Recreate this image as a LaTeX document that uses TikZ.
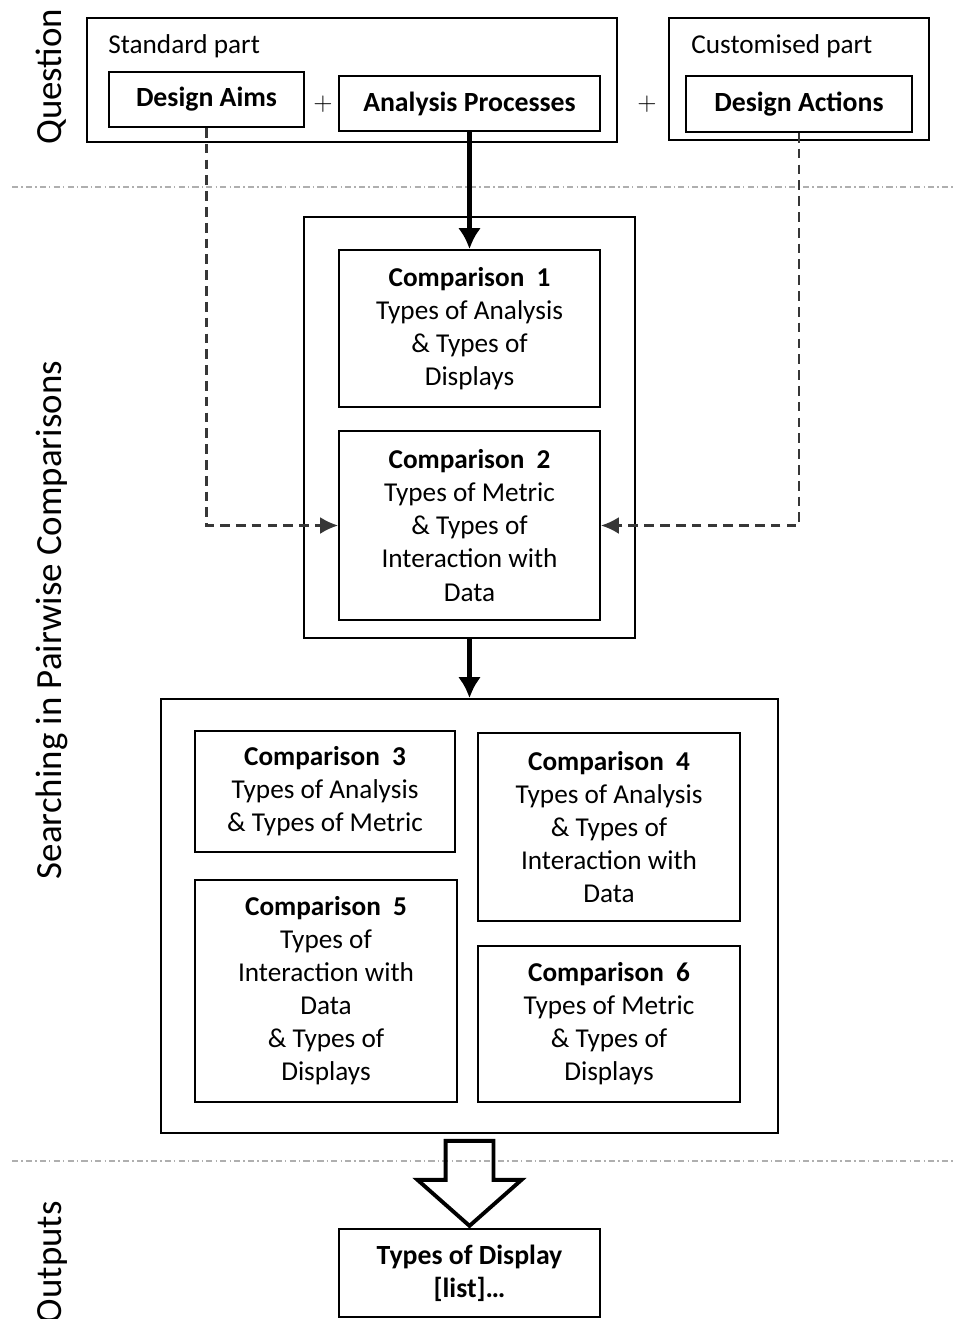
\documentclass[tikz,border=0pt]{standalone}
\usepackage{fontspec}
\setmainfont{Carlito}
\usetikzlibrary{arrows.meta, shapes.arrows}
\definecolor{dashgrey}{RGB}{55,55,55}
\definecolor{sepgrey}{RGB}{175,175,175}
\tikzstyle{frame} = [rectangle, draw, line width=1.1pt, inner sep=0pt]
\tikzstyle{cmpbox} = [rectangle, draw, line width=1.1pt, align=center, inner sep=0pt, font=\fontsize{15.5}{18.8}\selectfont]
\tikzstyle{qbox} = [cmpbox, font=\fontsize{15.8}{18.8}\selectfont\bfseries]
\tikzstyle{partlabel} = [anchor=west, inner sep=0pt, font=\fontsize{15.5}{17}\selectfont]
\tikzstyle{plussign} = [inner sep=0pt, font=\fontsize{15.5}{17}\selectfont]
\tikzstyle{rowlabel} = [rotate=90, inner sep=0pt, font=\fontsize{21}{24}\selectfont]
\tikzstyle{arrow} = [line width=2.6pt, -{Latex[length=0.42cm, width=0.46cm]}]
\tikzstyle{dasharrow} = [dashgrey, line width=1.3pt, dash pattern=on 5.5pt off 3.5pt, -{Latex[length=0.36cm, width=0.34cm]}]
\tikzstyle{sepline} = [sepgrey, line width=1.1pt, dash pattern=on 3.5pt off 1.8pt on 0.8pt off 1.8pt]
\newcommand{\cmptitle}[1]{\textbf{Comparison\hspace{0.45em}#1}}

\begin{document}
\begin{tikzpicture}[x=0.02cm, y=-0.02cm]
    \useasboundingbox (0,0) rectangle (954,1319);

    % row separators
    \draw[sepline] (12,187) -- (954,187);
    \draw[sepline] (12,1161) -- (954,1161);

    % row labels
    \node[rowlabel, anchor=base west] (lblq) at (61,145) {Question};
    \node[rowlabel, anchor=base] (lbls) at (61,620) {Searching in Pairwise Comparisons};
    \node[rowlabel, anchor=base east] (lblo) at (61,1201) {Outputs};

    % Question
    \node[frame, minimum width=10.6cm, minimum height=2.48cm] (std) at (352,80) {};
    \node[partlabel] (stdlbl) at (108,46) {Standard part};
    \node[qbox, minimum width=3.9cm, minimum height=1.1cm] (aims) at (206.5,99.5) {Design Aims};
    \node[plussign] (plus1) at (323,104) {$+$};
    \node[qbox, minimum width=5.22cm, minimum height=1.1cm] (proc) at (469.5,103.5) {Analysis Processes};
    \node[plussign] (plus2) at (647,104) {$+$};
    \node[frame, minimum width=5.2cm, minimum height=2.44cm] (cust) at (799,79) {};
    \node[partlabel] (custlbl) at (691,46) {Customised part};
    \node[qbox, minimum width=4.52cm, minimum height=1.12cm] (acts) at (799,104) {Design Actions};

    % first comparisons
    \node[frame, minimum width=6.62cm, minimum height=8.42cm] (grp1) at (469.5,427.5) {};
    \node[cmpbox, minimum width=5.22cm, minimum height=3.14cm] (c1) at (469.5,328.5) {\cmptitle{1}\\Types of Analysis\\\& Types of\\Displays};
    \node[cmpbox, minimum width=5.22cm, minimum height=3.78cm] (c2) at (469.5,525.5) {\cmptitle{2}\\Types of Metric\\\& Types of\\Interaction with\\Data};

    % further comparisons
    \node[frame, minimum width=12.34cm, minimum height=8.68cm] (grp2) at (469.5,916) {};
    \node[cmpbox, minimum width=5.2cm, minimum height=2.42cm] (c3) at (325,791.5) {\cmptitle{3}\\Types of Analysis\\\& Types of Metric};
    \node[cmpbox, minimum width=5.24cm, minimum height=3.76cm] (c4) at (609,827) {\cmptitle{4}\\Types of Analysis\\\& Types of\\Interaction with\\Data};
    \node[cmpbox, minimum width=5.24cm, minimum height=4.44cm] (c5) at (326,991) {\cmptitle{5}\\Types of\\Interaction with\\Data\\\& Types of\\Displays};
    \node[cmpbox, minimum width=5.24cm, minimum height=3.12cm] (c6) at (609,1024) {\cmptitle{6}\\Types of Metric\\\& Types of\\Displays};

    % Outputs
    \node[single arrow, draw, line width=2.2pt, shape border rotate=270, minimum height=1.7cm, minimum width=2cm, single arrow head extend=0.56cm, single arrow tip angle=97, inner xsep=0.44cm, inner ysep=0pt, anchor=tail, yshift=-0.1cm] (outarrow) at (grp2.south) {};
    \node[qbox, minimum width=5.22cm, minimum height=1.76cm] (out) at (469.5,1273) {Types of Display\\{[list]\dots}};

    % Arrows
    \draw[arrow] (proc) -- (c1);
    \draw[arrow] (grp1) -- (grp2);
    \draw[dasharrow] (aims.south) |- (c2.west);
    \draw[dasharrow] (acts.south) |- (c2.east);

\end{tikzpicture}
\end{document}
